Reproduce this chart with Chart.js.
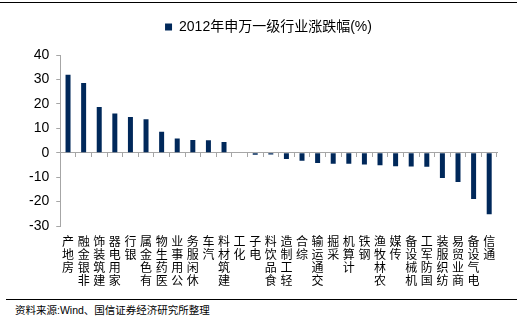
<!DOCTYPE html>
<html>
<head>
<meta charset="utf-8">
<script src="https://cdn.jsdelivr.net/npm/chart.js@4"></script>
<style>
  html, body { margin: 0; padding: 0; background: #fff; }
  #wrap { position: relative; width: 522px; height: 321px; overflow: hidden; }
  #topline { position: absolute; left: 0; top: 2px; width: 517px; height: 0; border-top: 1.3px solid #000; }
  #box { position: absolute; left: 0; top: 0; width: 522px; height: 292px; }
  #botline { position: absolute; left: 6px; top: 299px; width: 511px; height: 0; border-top: 1.3px solid #000; }
  #src { position: absolute; left: 15px; top: 302px; font: 10.5px "Liberation Sans", "Noto Sans CJK SC", sans-serif; color: #000; }
</style>
</head>
<body>
<div id="wrap">
  <div id="topline"></div>
  <div id="box"><canvas id="statsChart"></canvas></div>
  <div id="botline"></div>
  <div id="src">资料来源:Wind、国信证券经济研究所整理</div>
</div>
<script>
const industries = ['房地产', '非银金融', '建筑装饰', '家用电器', '银行', '有色金属', '医药生物',
  '公用事业', '休闲服务', '汽车', '建筑材料', '化工', '电子', '食品饮料', '轻工制造', '综合',
  '交通运输', '采掘', '计算机', '钢铁', '农林牧渔', '传媒', '机械设备', '国防军工', '纺织服装',
  '商业贸易', '电气设备', '通信'];
const change2012 = [31.9, 28.5, 18.7, 16.1, 14.6, 13.7, 8.6, 5.8, 5.2, 5.1, 4.4, -0.2, -0.8,
  -0.7, -2.6, -3.3, -4.2, -4.5, -4.5, -4.8, -5.1, -5.5, -5.6, -5.7, -10.3, -12.0, -18.9, -25.2];
const seriesName = '2012年申万一级行业涨跌幅(%)';
const yTicks = [-30, -20, -10, 0, 10, 20, 30, 40];

// labels stand upright, read from bottom to top
const stacked = industries.map(s => s.split('').reverse());

const axisGrey = '#a6a6a6';

// extra room under the legend, and nudge it a little to the right
const legendSpace = {
  id: 'legendSpace',
  beforeInit(chart) {
    const fit = chart.legend.fit;
    chart.legend.fit = function () { fit.bind(this)(); this.height += 11; };
  },
  afterLayout(chart) {
    chart.legend.left += 9;
    chart.legend.right += 9;
  }
};

new Chart(document.getElementById('statsChart').getContext('2d'), {
  type: 'bar',
  data: {
    labels: stacked,
    datasets: [{
      label: seriesName,
      data: change2012,
      backgroundColor: '#00285a',
      barPercentage: 0.32,
      categoryPercentage: 1
    }]
  },
  options: {
    responsive: true,
    maintainAspectRatio: false,
    animation: false,
    layout: { padding: { left: 22, right: 25, top: 0, bottom: 4 } },
    plugins: {
      legend: {
        labels: {
          boxWidth: 7, boxHeight: 7, padding: 20, color: '#000',
          font: { family: '"Liberation Sans", "Noto Sans CJK SC"', size: 14 }
        }
      },
      tooltip: { enabled: false }
    },
    scales: {
      x: {
        grid: { display: false },
        border: { display: false },
        ticks: {
          autoSkip: false, maxRotation: 0, minRotation: 0, padding: 1, color: '#000',
          font: { family: '"Noto Sans CJK SC"', size: 12, lineHeight: '13px' }
        }
      },
      x0: {
        axis: 'x',
        type: 'category',
        position: { y: 0 },
        offset: true,
        grid: { offset: true, drawOnChartArea: false, tickLength: 4, color: axisGrey },
        border: { color: axisGrey },
        ticks: { display: false }
      },
      y: {
        min: -30, max: 40,
        afterBuildTicks: s => { s.ticks = yTicks.map(v => ({ value: v })); },
        grid: { drawOnChartArea: false, tickLength: 4, color: axisGrey },
        border: { color: axisGrey },
        ticks: {
          padding: 7, color: '#000',
          font: { family: '"Liberation Sans", Arial', size: 14 }
        }
      }
    }
  },
  plugins: [legendSpace]
});
</script>
</body>
</html>
